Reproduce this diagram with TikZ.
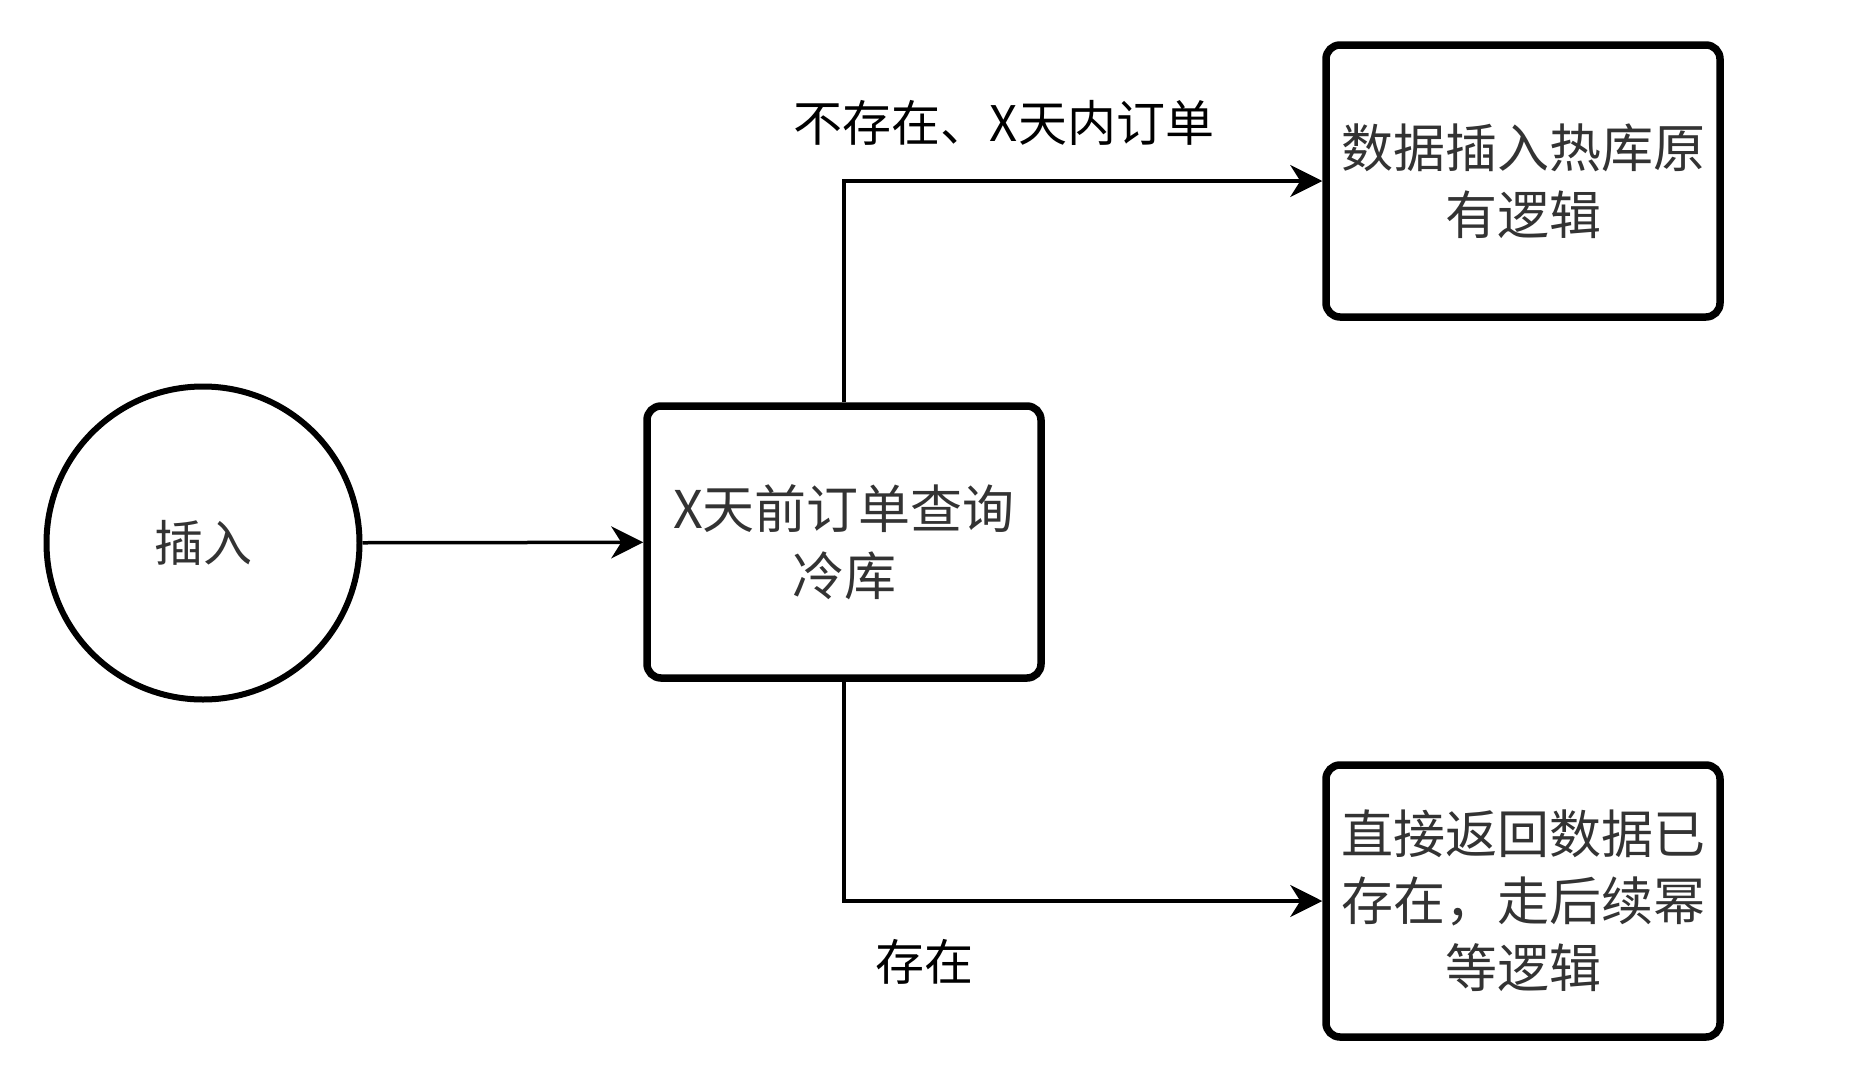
\documentclass[tikz,border=0pt]{standalone}
\usepackage{fontspec}
\setmainfont{Noto Sans CJK SC}
\usetikzlibrary{arrows.meta}
\definecolor{txt}{HTML}{333333}
\begin{document}
\begin{tikzpicture}[x=1pt,y=-1pt,
  box/.style={draw=black,line width=7.5pt,rounded corners=14pt,minimum width=394pt,minimum height=272pt,
    align=center,font=\fontsize{52}{67}\selectfont,text=txt,inner sep=0pt},
  startnode/.style={draw=black,line width=6pt,circle,minimum size=313pt,inner sep=0pt,
    font=\fontsize{49}{60}\selectfont,text=txt},
  lbl/.style={font=\fontsize{49}{60}\selectfont,text=black,inner sep=0pt},
  conn/.style={draw=black,line width=3.5pt,-{Stealth[length=32pt,width=32pt,inset=10pt]}}]
\useasboundingbox (0,0) rectangle (1850,1068);
\fill[white] (0,0) rectangle (1850,1068);
\node[startnode] (ins) at (203,543) {插入};
\node[box] (cold) at (844,542) {X天前订单查询\\冷库};
\node[box] (hot) at (1523,181) {数据插入热库原\\有逻辑};
\node[box] (exist) at (1523,901) {直接返回数据已\\存在，走后续幂\\等逻辑};
\node[lbl] (l1) at (1004,123) {不存在、X天内订单};
\node[lbl] (l2) at (924,962) {存在};
\draw[conn] (ins) -- (cold);
\draw[conn] (cold.north) |- (hot.west);
\draw[conn] (cold.south) |- (exist.west);
\end{tikzpicture}
\end{document}
